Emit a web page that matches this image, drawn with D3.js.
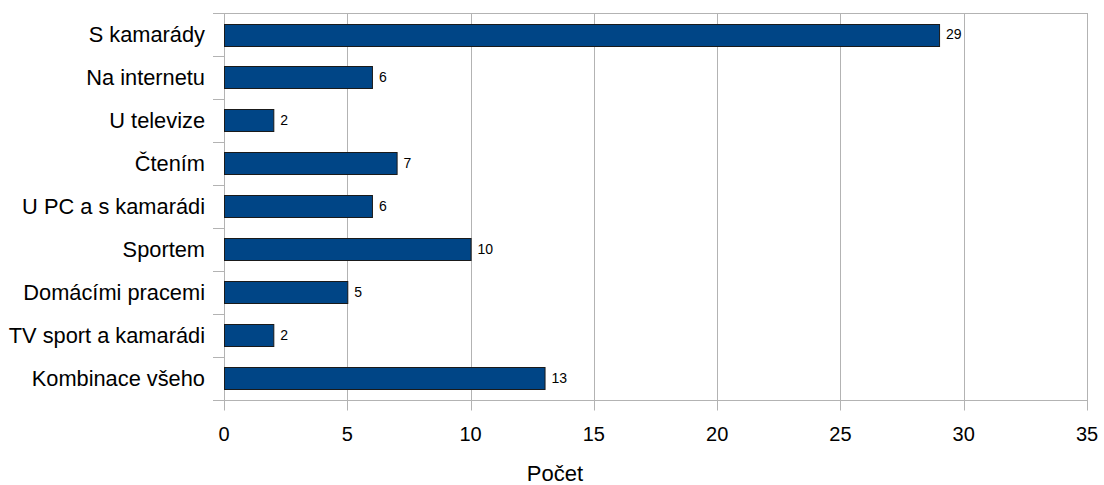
<!DOCTYPE html>
<html>
<head>
<meta charset="utf-8">
<script src="https://cdn.jsdelivr.net/npm/d3@7"></script>
<style>
  html, body { margin: 0; padding: 0; background: #fff; }
  svg { display: block; font-family: "Liberation Sans", Arial, sans-serif; }
</style>
</head>
<body>
<svg id="chart" width="1104" height="485"></svg>
<script>
const categories = ["S kamarády", "Na internetu", "U televize", "Čtením", "U PC a s kamarádi", "Sportem", "Domácími pracemi", "TV sport a kamarádi", "Kombinace všeho"];
const values = [29, 6, 2, 7, 6, 10, 5, 2, 13];
const xTicks = [0, 5, 10, 15, 20, 25, 30, 35];
const xTitle = "Počet";

(function () {
const svg = d3.select("#chart");
const mLeft = 224, mRight = 1087, mTop = 13, mBottom = 399.5;
const grid = "#b3b3b3";

const x = d3.scaleLinear().domain([0, 35]).range([mLeft, mRight]);
const y = d3.scaleBand().domain(categories).range([mTop, mBottom]).paddingInner(0.49).paddingOuter(0.245);
const yb = d3.scaleBand().domain(categories).range([mTop, mBottom]);

// vertical gridlines
svg.append("g").selectAll("line").data(xTicks).join("line")
  .attr("x1", d => Math.round(x(d)) + 0.5).attr("x2", d => Math.round(x(d)) + 0.5)
  .attr("y1", mTop).attr("y2", mBottom + 11)
  .attr("stroke", grid).attr("stroke-width", 1);

// top border
svg.append("line").attr("x1", mLeft - 11).attr("x2", mRight + 0.5).attr("y1", mTop + 0.5).attr("y2", mTop + 0.5)
  .attr("stroke", grid);
// bottom axis
svg.append("line").attr("x1", mLeft - 11).attr("x2", mRight + 0.5).attr("y1", Math.round(mBottom) + 0.5).attr("y2", Math.round(mBottom) + 0.5)
  .attr("stroke", grid);

// category ticks at band boundaries
const bounds = categories.map(c => yb(c)).slice(1);
svg.append("g").selectAll("line").data(bounds).join("line")
  .attr("x1", mLeft - 11).attr("x2", mLeft)
  .attr("y1", d => Math.round(d) + 0.5).attr("y2", d => Math.round(d) + 0.5)
  .attr("stroke", grid);

// bars
svg.append("g").selectAll("rect").data(values).join("rect")
  .attr("x", x(0) + 0.5)
  .attr("y", (d, i) => Math.round(y(categories[i])) + 0.5)
  .attr("width", d => x(d) - x(0))
  .attr("height", Math.round(y.bandwidth()))
  .attr("fill", "#004586").attr("stroke", "#1a1a1a").attr("stroke-width", 1);

// value labels
svg.append("g").selectAll("text").data(values).join("text")
  .attr("x", d => x(d) + 7)
  .attr("y", (d, i) => y(categories[i]) + y.bandwidth() / 2)
  .attr("dy", "0.35em")
  .attr("font-size", 14).attr("fill", "#000")
  .text(d => d);

// category labels
svg.append("g").selectAll("text").data(categories).join("text")
  .attr("x", mLeft - 19)
  .attr("y", d => yb(d) + yb.bandwidth() / 2)
  .attr("dy", "0.36em")
  .attr("text-anchor", "end")
  .attr("font-size", 21.8).attr("fill", "#000")
  .text(d => d);

// x tick labels
svg.append("g").selectAll("text").data(xTicks).join("text")
  .attr("x", d => x(d))
  .attr("y", 441)
  .attr("text-anchor", "middle")
  .attr("font-size", 20).attr("fill", "#000")
  .text(d => d);

// x title
svg.append("text")
  .attr("x", 555).attr("y", 481)
  .attr("text-anchor", "middle")
  .attr("font-size", 22).attr("fill", "#000")
  .text(xTitle);
})();
</script>
</body>
</html>
